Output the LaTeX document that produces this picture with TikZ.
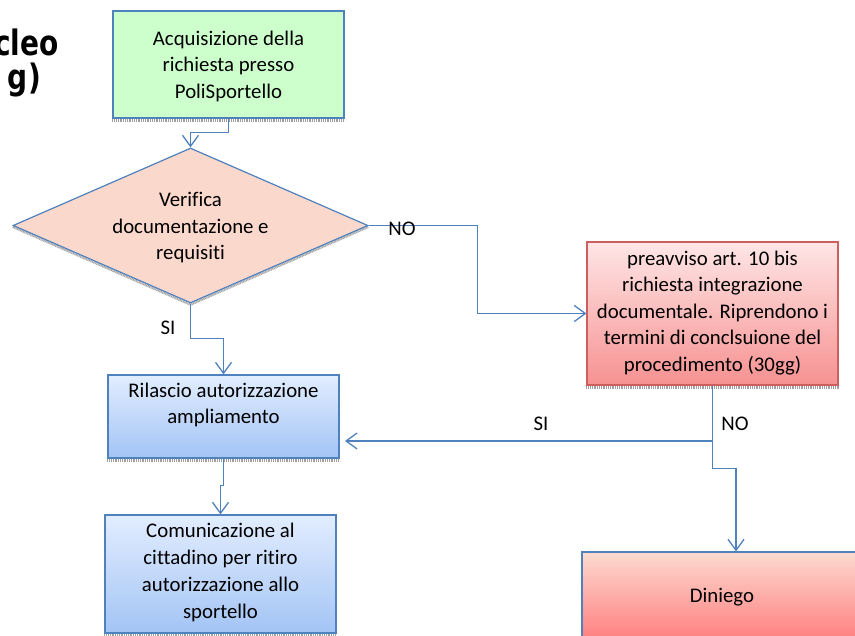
\documentclass[tikz,border=0pt]{standalone}
\usepackage{fontspec}
\setmainfont{Carlito}[Ligatures=NoCommon]
\newfontfamily\titlefont{DejaVu Sans}
\usetikzlibrary{shapes.geometric,arrows.meta,calc}
\definecolor{bord}{RGB}{79,129,189}
\definecolor{greenfill}{RGB}{204,255,204}
\definecolor{diafill}{RGB}{251,216,204}
\definecolor{pinkbord}{RGB}{205,95,95}
\definecolor{pinktop}{RGB}{255,230,230}
\definecolor{pinkbot}{RGB}{246,145,145}
\definecolor{bluetop}{RGB}{226,237,255}
\definecolor{bluebot}{RGB}{163,196,245}
\definecolor{dntop}{RGB}{252,218,208}
\definecolor{dnbot}{RGB}{255,125,125}
\tikzset{
  box/.style={draw=bord, line width=1.2pt, inner sep=0pt},
  txt/.style={align=center, font=\fontsize{20.8}{26.5}\selectfont, inner sep=0pt},
  lbl/.style={font=\fontsize{20.8}{24}\selectfont, inner sep=0pt},
  conn/.style={draw=bord, line width=1.3pt, -{Straight Barb[length=11pt,width=16pt,line width=1.3pt]}},
  shad/.style={draw=gray!75, line width=2.6pt, dash pattern=on 1pt off 0.8pt},
  ttl/.style={font=\titlefont\bfseries\fontsize{35}{40}\selectfont, inner sep=0pt}
}
\begin{document}
\begin{tikzpicture}[x=1pt,y=-1pt]
\useasboundingbox (0,0) rectangle (855,636);
% title fragments
\node[ttl, anchor=base east] (t1) at (59,56) {\scalebox{0.8}[1]{cleo}};
\node[ttl, anchor=base east] (t2) at (41,90) {\scalebox{0.8}[1]{g)}};
% box 1
\node[box, fill=greenfill, minimum width=231pt, minimum height=107pt] (b1) at (228.5,64.5) {};
\node[txt] (b1t) at (228.5,66) {Acquisizione della\\richiesta presso\\PoliSportello};
\draw[shad] ([yshift=-1.8pt]b1.south west) -- ([yshift=-1.8pt]b1.south east);
% diamond
\node[diamond, draw=none, minimum width=355pt, minimum height=155pt, inner sep=0pt] (dsh) at (190.5,227) {};
\draw[gray!70, line width=2.2pt, dash pattern=on 1pt off 0.6pt] (dsh.west) -- (dsh.south) -- (dsh.east);
\node[diamond, draw=bord, line width=1.2pt, fill=diafill, minimum width=355pt, minimum height=155pt, inner sep=0pt] (d) at (190.5,225.5) {};
\node[txt] (dt) at (190.5,228) {Verifica\\documentazione e\\requisiti};
% pink box
\node[box, draw=pinkbord, top color=pinktop, bottom color=pinkbot, minimum width=251pt, minimum height=143pt] (p) at (712.5,313.5) {};
\node[txt] (pt) at (712.5,313) {preavviso art. 10 bis\\richiesta integrazione\\documentale. Riprendono i\\termini di conclsuione del\\procedimento (30gg)};
\draw[shad] ([yshift=-1.8pt]p.south west) -- ([yshift=-1.8pt]p.south east);
% rilascio
\node[box, top color=bluetop, bottom color=bluebot, minimum width=231pt, minimum height=83pt] (r) at (223.5,416.5) {};
\node[txt] (rt) at (223.5,405) {Rilascio autorizzazione\\ampliamento};
\draw[shad] ([yshift=-1.8pt]r.south west) -- ([yshift=-1.8pt]r.south east);
% comunicazione
\node[box, top color=bluetop, bottom color=bluebot, minimum width=231pt, minimum height=118pt] (c) at (220.5,574) {};
\node[txt, font=\fontsize{20.8}{27.3}\selectfont] (ct) at (220.5,572.5) {Comunicazione al\\cittadino per ritiro\\autorizzazione allo\\sportello};
\draw[shad] ([yshift=-1.8pt]c.south west) -- ([yshift=-1.8pt]c.south east);
% diniego
\node[box, top color=dntop, bottom color=dnbot, minimum width=280pt, minimum height=90pt] (dn) at (722,597) {};
\node[txt] (dnt) at (722,597) {Diniego};
% connectors
\draw[conn] (b1.south) -- ++(0,14) -| (d.north);
\draw[conn] (d.east) -- ++(109,0) |- (p.west);
\node[lbl] (no1) at (402,229) {NO};
\draw[conn] (d.south) -- ++(0,35) -| (r.north);
\node[lbl] (si1) at (168,328) {SI};
\draw[conn] (r.south) -- ++(0,27) -| (c.north);
\coordinate (j1) at (713,441);
\coordinate (rin) at (345,441);
\draw[conn] (p.south) -- ++(0,83) -| ([xshift=14pt]dn.north);
\draw[conn] (j1) -- (rin);
\node[lbl] (si2) at (541,424) {SI};
\node[lbl] (no2) at (735,424) {NO};
\end{tikzpicture}
\end{document}
